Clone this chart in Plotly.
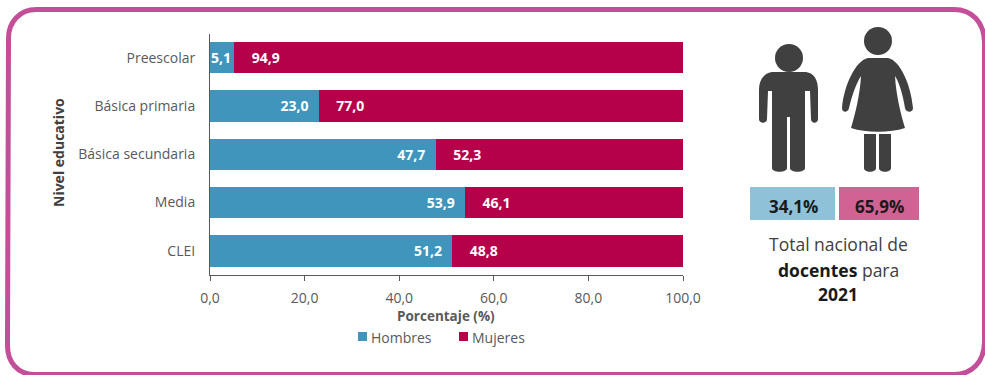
import plotly.graph_objects as go

W, H = 985, 375

levels = ["Preescolar", "Básica primaria", "Básica secundaria", "Media", "CLEI"]
hombres = [5.1, 23.0, 47.7, 53.9, 51.2]
mujeres = [94.9, 77.0, 52.3, 46.1, 48.8]
x_ticks = [0, 20, 40, 60, 80, 100]
x_tick_labels = ["0,0", "20,0", "40,0", "60,0", "80,0", "100,0"]
total_hombres = "34,1%"
total_mujeres = "65,9%"

BLUE = "#3F95BC"
CRIMSON = "#B5004A"
FRAME = "#C24F97"
ICON = "#404040"
TEXT = "#595959"
FONT = "Open Sans"


def px(x):
    return x / W


def py(y):
    return 1 - y / H


def path(cmds):
    """Build an SVG path in paper coordinates from (command, x, y, ...) tuples in pixels."""
    out = []
    for c in cmds:
        if c == "Z":
            out.append("Z")
            continue
        op, *nums = c
        pts = [f"{px(nums[i]):.5f},{py(nums[i + 1]):.5f}" for i in range(0, len(nums), 2)]
        out.append(op + " ".join(pts))
    return " ".join(out)


def fmt(v):
    return f"{v:.1f}".replace(".", ",")


fig = go.Figure()
fig.add_bar(
    y=levels, x=hombres, name="Hombres", orientation="h",
    marker=dict(color=BLUE, line_width=0),
    text=[fmt(v) if v < 10 else f"{fmt(v)}  " for v in hombres],
    textposition="inside", insidetextanchor="end", textangle=0,
    textfont=dict(color="white", size=14, family=FONT, weight="bold"),
    constraintext="none",
)
fig.add_bar(
    y=levels, x=mujeres, name="Mujeres", orientation="h",
    marker=dict(color=CRIMSON, line_width=0),
    text=[f"    {fmt(v)}" for v in mujeres],
    textposition="inside", insidetextanchor="start", textangle=0,
    textfont=dict(color="white", size=14, family=FONT, weight="bold"),
    constraintext="none",
)

shapes = [
    # outer rounded frame; its right and bottom edges run off the page
    dict(type="path", xref="paper", yref="paper", line=dict(color=FRAME, width=5),
         path=path([("M", 36, 9.5), ("L", 954, 9.5), ("C", 972, 9.5, 984, 22, 984.5, 42),
                    ("L", 984.5, 342), ("C", 984, 362, 972, 374.5, 954, 374.5),
                    ("L", 34, 374.5), ("C", 18, 374.5, 7.5, 362, 7.5, 346),
                    ("L", 8.5, 38), ("C", 8.5, 22, 20, 9.5, 36, 9.5), "Z"])),
    # man
    dict(type="circle", xref="paper", yref="paper", x0=px(775), x1=px(803), y0=py(44), y1=py(72),
         fillcolor=ICON, line_width=0),
    dict(type="path", xref="paper", yref="paper", fillcolor=ICON, line_width=0,
         path=path([("M", 772, 72), ("L", 806, 72), ("C", 814, 73, 818, 80, 818, 90),
                    ("L", 818, 119), ("C", 818, 124, 811, 124, 811, 119),
                    ("L", 810, 91), ("L", 805, 91), ("L", 805, 168),
                    ("C", 805, 173, 790, 173, 790, 168), ("L", 790, 117), ("L", 787, 117),
                    ("L", 787, 168), ("C", 787, 173, 772, 173, 772, 168), ("L", 772, 91),
                    ("L", 768, 91), ("L", 767, 119), ("C", 767, 124, 759, 124, 759, 119),
                    ("L", 759, 90), ("C", 759, 80, 764, 73, 772, 72), "Z"])),
    # woman
    dict(type="circle", xref="paper", yref="paper", x0=px(864), x1=px(892), y0=py(27), y1=py(55),
         fillcolor=ICON, line_width=0),
    dict(type="path", xref="paper", yref="paper", fillcolor=ICON, line_width=0,
         path=path([("M", 868, 58), ("L", 888, 58), ("C", 900, 60, 911, 85, 913, 108),
                    ("C", 913, 113, 906, 113, 905, 108), ("C", 903, 95, 899, 82, 895, 76),
                    ("C", 896, 95, 901, 115, 905, 128), ("C", 890, 133, 866, 133, 851, 128),
                    ("C", 855, 115, 860, 95, 861, 76), ("C", 857, 82, 852, 95, 849, 108),
                    ("C", 848, 113, 842, 113, 842, 108), ("C", 844, 85, 856, 60, 868, 58), "Z"])),
    dict(type="path", xref="paper", yref="paper", fillcolor=ICON, line_width=0,
         path=path([("M", 864, 134), ("L", 876, 134), ("L", 876, 168),
                    ("C", 876, 173, 864, 173, 864, 168), "Z"])),
    dict(type="path", xref="paper", yref="paper", fillcolor=ICON, line_width=0,
         path=path([("M", 879, 134), ("L", 891, 134), ("L", 891, 168),
                    ("C", 891, 173, 879, 173, 879, 168), "Z"])),
    # national totals
    dict(type="rect", xref="paper", yref="paper", x0=px(750), x1=px(835), y0=py(187), y1=py(220),
         fillcolor="#8FC1D8", line_width=0),
    dict(type="rect", xref="paper", yref="paper", x0=px(839), x1=px(919), y0=py(187), y1=py(220),
         fillcolor="#D06294", line_width=0),
    # legend swatches
    dict(type="rect", xref="paper", yref="paper", x0=px(358), x1=px(367), y0=py(332), y1=py(341),
         fillcolor=BLUE, line_width=0),
    dict(type="rect", xref="paper", yref="paper", x0=px(459), x1=px(468), y0=py(332), y1=py(341),
         fillcolor=CRIMSON, line_width=0),
]


def note(x, y, text, size, color, anchor="center", **kw):
    return dict(xref="paper", yref="paper", x=px(x), y=py(y), text=text, showarrow=False,
                font=dict(size=size, color=color, family=FONT), xanchor=anchor, yanchor="middle", **kw)


annotations = [
    note(793, 206, f"<b>{total_hombres}</b>", 17, "#1A1A1A"),
    note(879, 206, f"<b>{total_mujeres}</b>", 17, "#1A1A1A"),
    note(838, 244, "Total nacional de", 17.5, "#404040"),
    note(838, 270, "<b style='color:#1A1A1A'>docentes</b> para", 17.5, "#404040"),
    note(838, 294, "<b>2021</b>", 17.5, "#1A1A1A"),
    note(446, 315.5, "<b>Porcentaje (%)</b>", 13.5, TEXT),
    note(59, 153, "<b>Nivel educativo</b>", 14, "#404040", textangle=-90),
    note(369, 337, "Hombres", 14, TEXT, anchor="left"),
    note(470, 337, "Mujeres", 14, TEXT, anchor="left"),
]

fig.update_layout(
    width=W, height=H, barmode="stack", bargap=0.35, showlegend=False,
    margin=dict(l=0, r=0, t=0, b=0), autosize=False,
    paper_bgcolor="white", plot_bgcolor="white",
    font=dict(family=FONT, color=TEXT, size=13),
    shapes=shapes, annotations=annotations,
    xaxis=dict(domain=[px(210), px(683)], range=[0, 100], tickvals=x_ticks, ticktext=x_tick_labels,
               showgrid=False, zeroline=False, showline=True, linecolor="#595959", linewidth=1,
               ticks="outside", ticklen=5, tickcolor="#595959", tickfont=dict(size=14, color=TEXT),
               ticklabelstandoff=5, anchor="y", automargin=False),
    yaxis=dict(domain=[py(275), py(33.5)], autorange="reversed", showgrid=False, zeroline=False,
               showline=True, linecolor="#595959", linewidth=1, ticks="",
               ticklabelstandoff=11, tickfont=dict(size=14, color=TEXT), anchor="x", automargin=False),
)

fig.write_html("out.html")
